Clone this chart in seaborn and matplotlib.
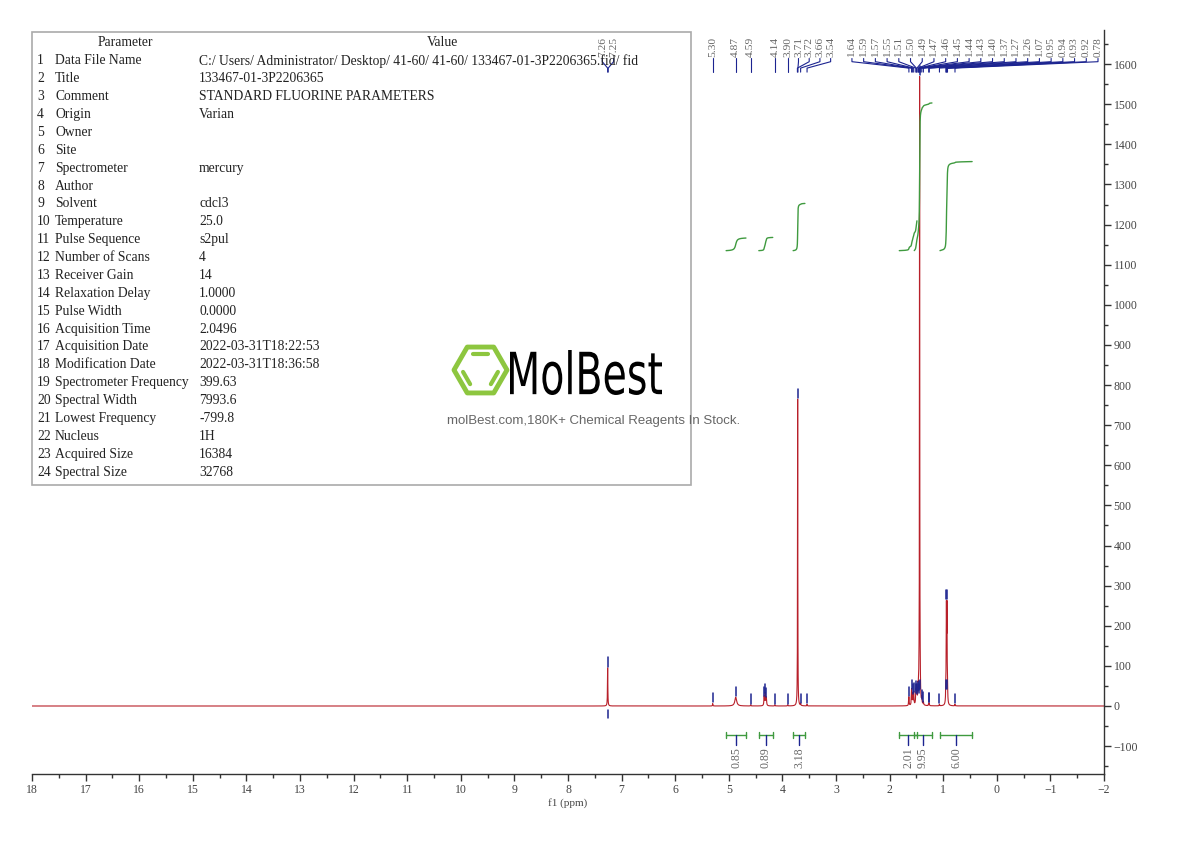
import numpy as np
import pandas as pd
import matplotlib
matplotlib.use("Agg")
import matplotlib.pyplot as plt
import seaborn as sns
from matplotlib.patches import Rectangle, Polygon, PathPatch
from matplotlib.lines import Line2D
from matplotlib.textpath import TextPath
from matplotlib.font_manager import FontProperties
from matplotlib.transforms import Affine2D
from matplotlib.ticker import MultipleLocator

# picked peaks of the 1H spectrum (ppm, height, half width in ppm)
peak_ppm = [7.26, 5.30, 4.87, 4.59, 4.34, 4.32, 4.30, 4.14, 3.90, 3.715, 3.66, 3.54,
            1.64, 1.59, 1.57, 1.55, 1.51, 1.50, 1.49, 1.47, 1.46, 1.45, 1.44, 1.43,
            1.40, 1.37, 1.27, 1.26, 1.07, 0.95, 0.94, 0.93, 0.92, 0.78]
peak_height = [95, 6, 22, 3, 22, 30, 20, 3, 3, 765, 5, 4,
               22, 40, 28, 32, 30, 36, 28, 34, 30, 36, 1550, 40,
               14, 8, 6, 6, 4, 40, 225, 225, 40, 4]
peak_width = [0.004, 0.004, 0.02, 0.004, 0.006, 0.006, 0.006, 0.004, 0.004, 0.003, 0.004, 0.004,
              0.005, 0.005, 0.005, 0.005, 0.005, 0.005, 0.005, 0.005, 0.005, 0.005, 0.003, 0.005,
              0.005, 0.005, 0.004, 0.004, 0.004, 0.004, 0.004, 0.004, 0.004, 0.004]

# peak labels printed along the top
labels_chcl3 = [7.26, 7.25]
labels_mid = [5.30, 4.87, 4.59, 4.14, 3.90, 3.71, 3.72, 3.66, 3.54]
labels_alkyl = [1.64, 1.59, 1.57, 1.55, 1.51, 1.50, 1.49, 1.47, 1.46, 1.45, 1.44,
                1.43, 1.40, 1.37, 1.27, 1.26, 1.07, 0.95, 0.94, 0.93, 0.92, 0.78]

# integral regions
int_start = [5.05, 4.44, 3.80, 1.82, 1.54, 1.06]
int_end = [4.68, 4.18, 3.58, 1.49, 1.21, 0.46]
int_value = [0.85, 0.89, 3.18, 2.01, 9.95, 6.00]

# acquisition parameters
param_names = ["Data File Name", "Title", "Comment", "Origin", "Owner", "Site",
               "Spectrometer", "Author", "Solvent", "Temperature", "Pulse Sequence",
               "Number of Scans", "Receiver Gain", "Relaxation Delay", "Pulse Width",
               "Acquisition Time", "Acquisition Date", "Modification Date",
               "Spectrometer Frequency", "Spectral Width", "Lowest Frequency",
               "Nucleus", "Acquired Size", "Spectral Size"]
param_values = ["C:/ Users/ Administrator/ Desktop/ 41-60/ 41-60/ 133467-01-3P2206365.fid/ fid",
                "133467-01-3P2206365", "STANDARD FLUORINE PARAMETERS", "Varian", "", "",
                "mercury", "", "cdcl3", "25.0", "s2pul", "4", "14", "1.0000", "0.0000",
                "2.0496", "2022-03-31T18:22:53", "2022-03-31T18:36:58", "399.63",
                "7993.6", "-799.8", "1H", "16384", "32768"]

RED = "#b8202a"
NAVY = "#1c2490"
GREEN = "#3f9a3f"
GRAY = "#666666"
W, H = 1190, 841
INT_BASE = 1135
INT_SCALE = 37


def fx(px):
    return px / W


def fy(py):
    return 1 - py / H


def spread_labels(peaks, gap, mode):
    n = len(peaks)
    if mode == "center":
        mid = np.mean(peaks)
        return [mid + gap * ((n - 1) / 2 - i) for i in range(n)]
    if mode == "right":
        return [-1.888 + gap * (n - 1 - i) for i in range(n)]
    pos = [peaks[0]]
    for p in peaks[1:]:
        pos.append(min(p, pos[-1] - gap))
    return pos


sns.set_theme(style="white")
plt.rcParams["font.family"] = ["Liberation Serif", "DejaVu Serif"]

grid = np.linspace(-2, 18, 40001)
spec = np.zeros_like(grid)
for p, h, w in zip(peak_ppm, peak_height, peak_width):
    spec += h / (1 + ((grid - p) / w) ** 2)
df = pd.DataFrame({"ppm": grid, "intensity": spec})

fig = plt.figure(figsize=(W / 100, H / 100), dpi=100)
ax = fig.add_axes([fx(32), 1 - 774 / H, fx(1104 - 32), (774 - 30) / H])
sns.lineplot(data=df, x="ppm", y="intensity", color=RED, lw=0.8,
             estimator=None, sort=False, ax=ax)
ax.set_xlim(18, -2)
ax.set_ylim(-169.5, 1685)

# integral curves and brackets
for s, e, v in zip(int_start, int_end, int_value):
    m = (grid <= s) & (grid >= e)
    sx = grid[m][::-1]
    cum = np.cumsum(spec[m][::-1])
    cum = cum / cum[-1]
    ax.plot(sx, INT_BASE + v * INT_SCALE * cum, color=GREEN, lw=1)
    ax.plot([s, e], [-72, -72], color=GREEN, lw=1)
    ax.plot([s, s], [-80, -64], color=GREEN, lw=1)
    ax.plot([e, e], [-80, -64], color=GREEN, lw=1)
    c = (s + e) / 2
    ax.plot([c, c], [-72, -96], color=NAVY, lw=1)
    ax.text(c, -102, f"{v:.2f}", rotation=90, ha="center", va="top",
            fontsize=8.5, color=GRAY)

# peak pick markers
for p, own in zip(peak_ppm, peak_height):
    h = np.interp(p, grid, spec) if own > 100 else own
    ax.plot([p, p], [h + 3, h + 26], color=NAVY, lw=1.1)
ax.plot([7.26, 7.26], [-10, -30], color=NAVY, lw=1.1)

# peak labels with leader lines
for peaks, mode, gap in [(labels_chcl3, "center", 0.21),
                         (labels_mid, "push", 0.2),
                         (labels_alkyl, "right", 0.2186)]:
    pos = spread_labels(peaks, gap, mode)
    for p, lp in zip(peaks, pos):
        ax.plot([lp, lp, p, p], [1614, 1606, 1590, 1580], color=NAVY, lw=0.8)
        ax.text(lp, 1617, f"{p:.2f}", rotation=90, ha="center", va="bottom",
                fontsize=8.2, color=GRAY)

# axes styling
for side in ["left", "top"]:
    ax.spines[side].set_visible(False)
for side in ["bottom", "right"]:
    ax.spines[side].set_color("#333333")
    ax.spines[side].set_linewidth(1)
ax.yaxis.tick_right()
ax.xaxis.set_major_locator(MultipleLocator(1))
ax.xaxis.set_minor_locator(MultipleLocator(0.5))
ax.yaxis.set_major_locator(MultipleLocator(100))
ax.yaxis.set_minor_locator(MultipleLocator(50))
ax.tick_params(which="both", direction="out", colors="#333333", labelcolor="#444444",
               labelsize=8.5, width=1)
ax.tick_params(which="major", length=5, pad=2)
ax.tick_params(which="minor", length=3)
ax.tick_params(axis="y", which="both", left=False, right=True)
ax.tick_params(axis="x", which="both", bottom=True)
ax.set_xlabel("f1 (ppm)", fontsize=8, color="#444444", labelpad=2)
ax.set_ylabel("")
ax.grid(False)

# parameter table
fig.patches.append(Rectangle((fx(32), fy(485)), fx(691 - 32), (485 - 32) / H,
                             transform=fig.transFigure, fill=False,
                             edgecolor="#aaaaaa", lw=1.2))
tkw = dict(fontsize=9.8, color="#222222", va="center")
fig.text(fx(125), fy(43), "Parameter", ha="center", **tkw)
fig.text(fx(442), fy(43), "Value", ha="center", **tkw)
for i, (name, val) in enumerate(zip(param_names, param_values)):
    y = fy(61 + i * 17.87)
    fig.text(fx(37), y, str(i + 1), ha="left", **tkw)
    fig.text(fx(55), y, name, ha="left", **tkw)
    fig.text(fx(199), y, val, ha="left", **tkw)

# watermark logo
cx, cy, R = 480.5, 370, 26.5
ang = np.deg2rad(np.arange(0, 360, 60))
vx = cx + R * np.cos(ang)
vy = cy - R * np.sin(ang)
fig.patches.append(Polygon(np.column_stack([fx(vx), fy(vy)]), closed=True,
                           transform=fig.transFigure, fill=False,
                           edgecolor="#8dc63f", lw=3.5, joinstyle="round"))
for a, b in [(1, 2), (3, 4), (5, 0)]:
    ax0, ay0 = cx + 0.7 * (vx[a] - cx), cy + 0.7 * (vy[a] - cy)
    ax1, ay1 = cx + 0.7 * (vx[b] - cx), cy + 0.7 * (vy[b] - cy)
    t0, t1 = 0.12, 0.88
    xs = [ax0 + t0 * (ax1 - ax0), ax0 + t1 * (ax1 - ax0)]
    ys = [ay0 + t0 * (ay1 - ay0), ay0 + t1 * (ay1 - ay0)]
    fig.lines.append(Line2D(fx(np.array(xs)), fy(np.array(ys)), transform=fig.transFigure,
                            color="#8dc63f", lw=3, solid_capstyle="round"))

tp = TextPath((0, 0), "MolBest", size=1, prop=FontProperties(family="DejaVu Sans"))
bb = tp.get_extents()
tr = (Affine2D().translate(-bb.x0, -bb.y0)
      .scale(fx(152) / bb.width, (45 / H) / bb.height)
      .translate(fx(510), fy(395)) + fig.transFigure)
fig.patches.append(PathPatch(tp, transform=tr, facecolor="black", edgecolor="none"))
fig.text(fx(594), fy(421), "molBest.com,180K+ Chemical Reagents In Stock.",
         ha="center", va="center", fontsize=9.5, color="#666666", family="Liberation Sans")

fig.savefig("out.png", dpi=100)
